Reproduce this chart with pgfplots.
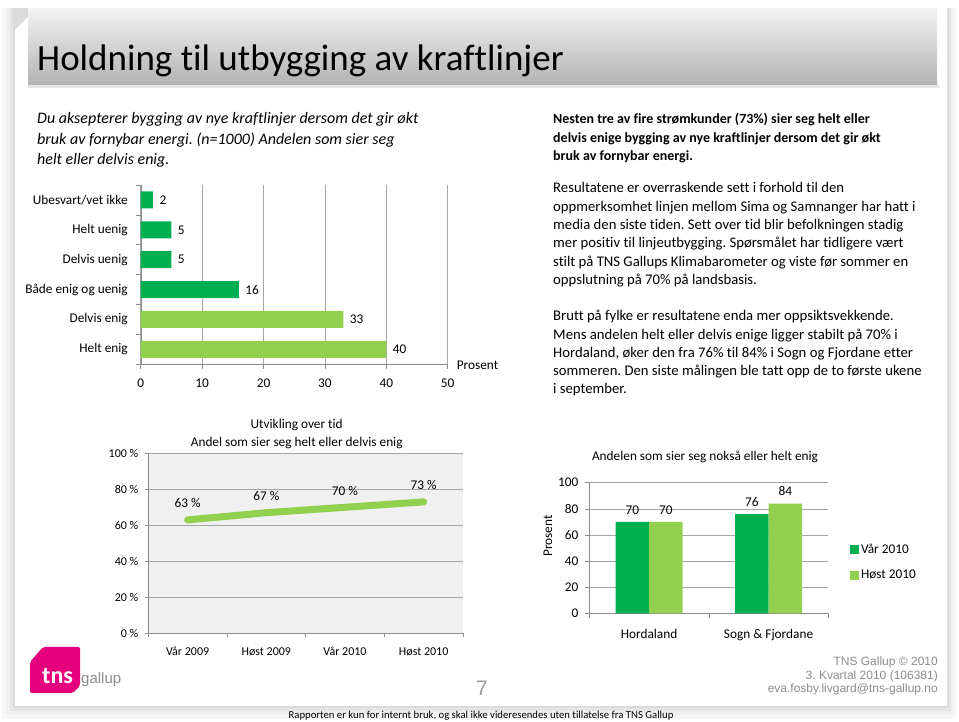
\documentclass[border=0pt]{standalone}
\usepackage{pgfplots}
\pgfplotsset{compat=1.18}
\usepackage{fontspec}
\setmainfont{Carlito}[Ligatures=NoCommon]
\newfontfamily\arialf{Liberation Sans}
\frenchspacing
\definecolor{dg}{HTML}{00B050}
\definecolor{lg}{HTML}{92D050}
\definecolor{tnsmag}{HTML}{E6007E}
\definecolor{axgray}{HTML}{8C8C8C}
\definecolor{gridgray}{HTML}{A6A6A6}
\newcommand{\fs}[1]{\fontsize{#1bp}{#1bp}\selectfont}
\newcommand{\tl}[3]{\node[anchor=base west,inner sep=0pt] at (#1,722-#2) {#3};}
\pgfplotsset{
  slide/.style={
    scale only axis, anchor=south west,
    axis line style={-,axgray}, tick style={axgray,line width=0.6bp},
    grid style={gridgray,line width=0.6bp},
    tick align=outside, major tick length=4.5bp,
    /pgf/number format/assume math mode=true,
    tick label style={black},
  }
}
\begin{document}
\begin{tikzpicture}[x=1bp,y=1bp]
\useasboundingbox (0,0) rectangle (959,722);
% slide shadow and slide
\fill[black!3] (2,3) rectangle (957,714);
\fill[black!6] (6,7) rectangle (954,714);
\fill[black!10] (10,11) rectangle (951,714);
\fill[black!14] (13,14) rectangle (949,714);
\fill[white] (15,16) -- (15,692) -- (37,714) -- (947,714) -- (947,16) -- cycle;
% title bar
\fill[black!10] (28,634) rectangle (939,637);
\shade[top color=black!5, bottom color=black!30] (28,637) rectangle (937,713);
\node[anchor=base west,inner sep=0pt,font=\fs{37}] at (37,722-71) {Holdning til utbygging av kraftlinjer};
% left question text
\begin{scope}[font=\itshape\fs{16}]
\tl{37}{124}{Du aksepterer bygging av nye kraftlinjer dersom det gir økt}
\tl{37}{144.5}{bruk av fornybar energi. (n=1000) Andelen som sier seg}
\tl{37}{165}{helt eller delvis enig.}
\end{scope}
% right text
\begin{scope}[font=\bfseries\fs{14}]
\tl{553}{124}{Nesten tre av fire strømkunder (73\%) sier seg helt eller}
\tl{553}{142.5}{delvis enige bygging av nye kraftlinjer dersom det gir økt}
\tl{553}{161}{bruk av fornybar energi.}
\end{scope}
\begin{scope}[font=\fs{14.7}]
\tl{553}{193}{Resultatene er overraskende sett i forhold til den}
\tl{553}{211.3}{oppmerksomhet linjen mellom Sima og Samnanger har hatt i}
\tl{553}{229.6}{media den siste tiden. Sett over tid blir befolkningen stadig}
\tl{553}{247.9}{mer positiv til linjeutbygging. Spørsmålet har tidligere vært}
\tl{553}{266.2}{stilt på TNS Gallups Klimabarometer og viste før sommer en}
\tl{553}{284.5}{oppslutning på 70\% på landsbasis.}
\tl{553}{321}{Brutt på fylke er resultatene enda mer oppsiktsvekkende.}
\tl{553}{339.2}{Mens andelen helt eller delvis enige ligger stabilt på 70\% i}
\tl{553}{357.4}{Hordaland, øker den fra 76\% til 84\% i Sogn og Fjordane etter}
\tl{553}{375.6}{sommeren. Den siste målingen ble tatt opp de to første ukene}
\tl{553}{393.8}{i september.}
\end{scope}

% ---------- Chart 1: horizontal bars ----------
\begin{axis}[slide, at={(140.7bp,357.7bp)}, width=307bp, height=179.3bp,
  xbar, bar shift=0pt, bar width=17bp,
  xmin=0, xmax=50, ymin=-0.5, ymax=5.5,
  xtick={0,10,...,50},
  ytick={-0.5,0.5,...,5.5}, y tick label as interval,
  yticklabels={Helt enig,Delvis enig,Både enig og uenig,Delvis uenig,Helt uenig,Ubesvart/vet ikke},
  axis x line*=bottom, axis y line*=left,
  xmajorgrids,
  tick label style={font=\fs{13.3}},
  xticklabel style={yshift=-7bp},
  yticklabel style={xshift=-5bp},
  nodes near coords, nodes near coords style={font=\fs{13.3},anchor=west,black,xshift=3bp},
]
\addplot[fill=lg,draw=none] coordinates {(40,0) (33,1)};
\addplot[fill=dg,draw=none] coordinates {(16,2) (5,3) (5,4) (2,5)};
\end{axis}
\node[font=\fs{13.3}] at (477.5,722-365) {Prosent};

% ---------- Chart 2: line ----------
\node[font=\fs{13.3}] at (296.7,722-425) {Utvikling over tid};
\node[font=\fs{13.3}] at (296.7,722-443.3) {Andel som sier seg helt eller delvis enig};
\begin{axis}[slide, at={(148.3bp,88.7bp)}, width=314.7bp, height=180bp,
  xmin=-0.5, xmax=3.5, ymin=0, ymax=100,
  xtick={-0.5,0.5,...,3.5}, x tick label as interval,
  xticklabels={Vår 2009,Høst 2009,Vår 2010,Høst 2010},
  ytick={0,20,...,100}, yticklabels={0 \%,20 \%,40 \%,60 \%,80 \%,100 \%},
  axis x line*=bottom, axis y line*=left,
  ymajorgrids, major tick length=3.5bp,
  axis background/.style={fill=black!6},
  tick label style={font=\fs{12}},
  xticklabel style={yshift=-6.5bp, text height=9bp, text depth=3bp},
  yticklabel style={xshift=-3bp},
  nodes near coords={\pgfmathprintnumber{\pgfplotspointmeta}~\%},
  nodes near coords style={font=\fs{13.3},anchor=south,black,yshift=5bp},
]
\addplot[lg, line width=7bp, line cap=round] coordinates {(0,63) (1,67) (2,70) (3,73)};
\end{axis}

% ---------- Chart 3: grouped bars ----------
\node[font=\fs{13.3}] at (705,722-456.7) {Andelen som sier seg nokså eller helt enig};
\node[font=\fs{13.3},rotate=90] at (548,722-536) {Prosent};
\begin{axis}[slide, at={(589.3bp,108.7bp)}, width=239bp, height=130.6bp,
  ybar=0pt, bar width=33.5bp,
  xmin=-0.5, xmax=1.5, ymin=0, ymax=100,
  xtick={-0.5,0.5,1.5}, x tick label as interval,
  xticklabels={Hordaland,Sogn \& Fjordane},
  ytick={0,20,...,100},
  axis x line*=bottom, axis y line*=left,
  ymajorgrids,
  tick label style={font=\fs{13.3}},
  xticklabel style={yshift=-8bp, text height=9.5bp, text depth=3bp},
  yticklabel style={xshift=-3bp},
  nodes near coords, nodes near coords style={font=\fs{13.3},anchor=south,black,yshift=4bp},
  legend style={at={(1.09,0.39)}, anchor=west, draw=none, fill=none, font=\fs{13.3},
    inner sep=0pt, row sep=11bp, cells={anchor=west}},
]
\addplot[fill=dg,draw=none,legend image code/.code={\fill[dg] (0bp,-4.5bp) rectangle (9bp,4.5bp);}] coordinates {(0,70) (1,76)};
\addplot[fill=lg,draw=none,legend image code/.code={\fill[lg] (0bp,-4.5bp) rectangle (9bp,4.5bp);}] coordinates {(0,70) (1,84)};
\legend{Vår 2010, Høst 2010}
\end{axis}

% ---------- Footer ----------
\fill[tnsmag,rounded corners=2bp] (30,722-662) -- (43,722-647) -- (80,722-647) -- (80,722-686) -- (73,722-693) -- (30,722-693) -- cycle;
\node[anchor=base west,inner sep=0pt,font=\bfseries\fs{24},white] at (42,722-684) {tns};
\node[anchor=base west,inner sep=0pt,font=\arialf\fs{15},black!45] at (81,722-684) {gallup};
\node[font=\arialf\fs{21},black!40] at (482,722-688) {7};
\begin{scope}[font=\arialf\fs{12},black!45]
\node[anchor=base east,inner sep=0pt] at (938,722-665.5) {TNS Gallup © 2010};
\node[anchor=base east,inner sep=0pt] at (938,722-679.5) {3. Kvartal 2010 (106381)};
\node[anchor=base east,inner sep=0pt] at (938,722-693) {eva.fosby.livgard@tns-gallup.no};
\end{scope}
\node[font=\fs{10.7}] at (481,722-716) {Rapporten er kun for internt bruk, og skal ikke videresendes uten tillatelse fra TNS Gallup};
\end{tikzpicture}
\end{document}
